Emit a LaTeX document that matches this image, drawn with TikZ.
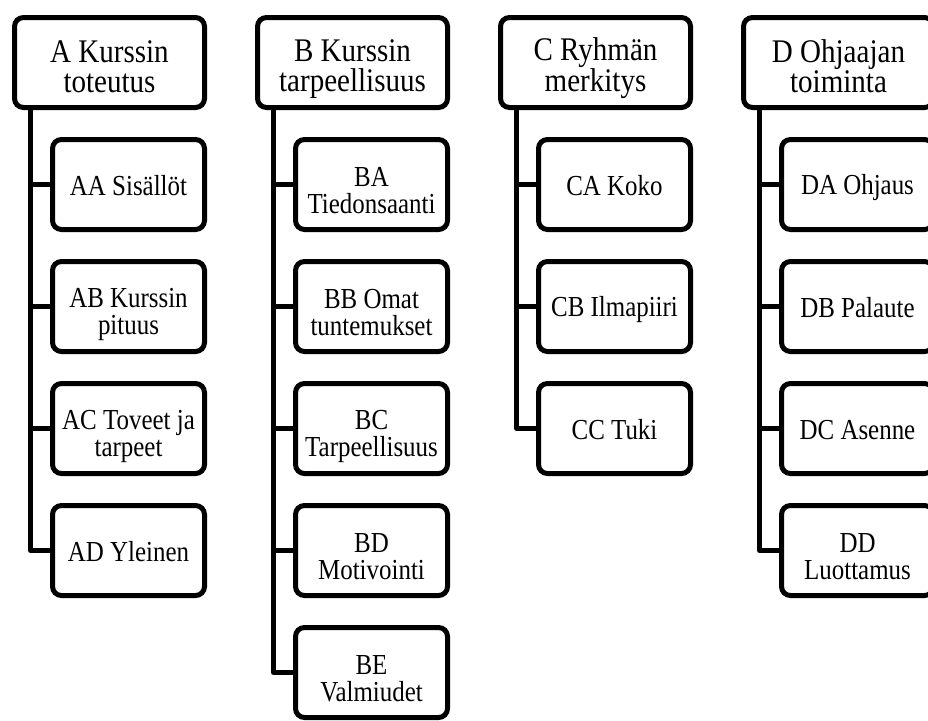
\documentclass[tikz,border=0pt]{standalone}
\usepackage{fontspec}
\setmainfont{Liberation Serif}
\newfontfamily\topfont[FakeStretch=0.88]{Liberation Serif}
\newfontfamily\subfont[FakeStretch=0.86]{Liberation Serif}
% struts that fix the vertical placement of the text lines
\newcommand{\twoln}[3]{\rule{0pt}{#1}#2\\#3\rule[-5pt]{0pt}{5pt}}
\newcommand{\oneln}[1]{\rule{0pt}{26pt}#1\rule[-5pt]{0pt}{5pt}}
\newcommand{\toptxt}[2]{\twoln{34.5pt}{#1}{#2}}
\newcommand{\subtxt}[2]{\twoln{36pt}{#1}{#2}}
\begin{document}
\begin{tikzpicture}[x=1pt,y=-1pt,
  topbox/.style={draw=black, fill=white, line width=5pt, rounded corners=9pt,
    minimum width=190pt, minimum height=90pt, inner sep=0pt, align=center,
    font=\topfont\fontsize{33}{30}\selectfont},
  subbox/.style={topbox, minimum width=152pt,
    font=\subfont\fontsize{29}{27}\selectfont},
  link/.style={draw=black, line width=5pt, line join=round}]
\useasboundingbox (0,0) rectangle (928,720);
\clip (0,0) rectangle (928,720);

% top-level boxes
\node[topbox] (A) at (109.5,62.5) {\toptxt{A Kurssin}{toteutus}};
\node[topbox] (B) at (352.5,62.5) {\toptxt{B Kurssin}{tarpeellisuus}};
\node[topbox] (C) at (595.5,62.5) {\toptxt{C Ryhmän}{merkitys}};
\node[topbox] (D) at (838.5,62.5) {\toptxt{D Ohjaajan}{toiminta}};

% A children
\node[subbox] (AA) at (128.5,184.5) {\oneln{AA Sisällöt}};
\node[subbox] (AB) at (128.5,306.5) {\subtxt{AB Kurssin}{pituus}};
\node[subbox] (AC) at (128.5,428.5) {\subtxt{AC Toveet ja}{tarpeet}};
\node[subbox] (AD) at (128.5,550.5) {\oneln{AD Yleinen}};

% B children
\node[subbox] (BA) at (371.5,184.5) {\subtxt{BA}{Tiedonsaanti}};
\node[subbox] (BB) at (371.5,306.5) {\subtxt{BB Omat}{tuntemukset}};
\node[subbox] (BC) at (371.5,428.5) {\subtxt{BC}{Tarpeellisuus}};
\node[subbox] (BD) at (371.5,550.5) {\subtxt{BD}{Motivointi}};
\node[subbox] (BE) at (371.5,672.5) {\subtxt{BE}{Valmiudet}};

% C children
\node[subbox] (CA) at (614.5,184.5) {\oneln{CA Koko}};
\node[subbox] (CB) at (614.5,306.5) {\oneln{CB Ilmapiiri}};
\node[subbox] (CC) at (614.5,428.5) {\oneln{CC Tuki}};

% D children
\node[subbox] (DA) at (857.5,184.5) {\oneln{DA Ohjaus}};
\node[subbox] (DB) at (857.5,306.5) {\oneln{DB Palaute}};
\node[subbox] (DC) at (857.5,428.5) {\oneln{DC Asenne}};
\node[subbox] (DD) at (857.5,550.5) {\subtxt{DD}{Luottamus}};

% trunk start points
\coordinate (tA) at ([xshift=18.5pt]A.south west);
\coordinate (tB) at ([xshift=18.5pt]B.south west);
\coordinate (tC) at ([xshift=18.5pt]C.south west);
\coordinate (tD) at ([xshift=18.5pt]D.south west);

% A connectors
\draw[link] (tA) |- (AD.west);
\foreach \n in {AA,AB,AC} \draw[link] (\n.west) -- (\n.west -| tA);
% B connectors
\draw[link] (tB) |- (BE.west);
\foreach \n in {BA,BB,BC,BD} \draw[link] (\n.west) -- (\n.west -| tB);
% C connectors
\draw[link] (tC) |- (CC.west);
\foreach \n in {CA,CB} \draw[link] (\n.west) -- (\n.west -| tC);
% D connectors
\draw[link] (tD) |- (DD.west);
\foreach \n in {DA,DB,DC} \draw[link] (\n.west) -- (\n.west -| tD);
\end{tikzpicture}
\end{document}
